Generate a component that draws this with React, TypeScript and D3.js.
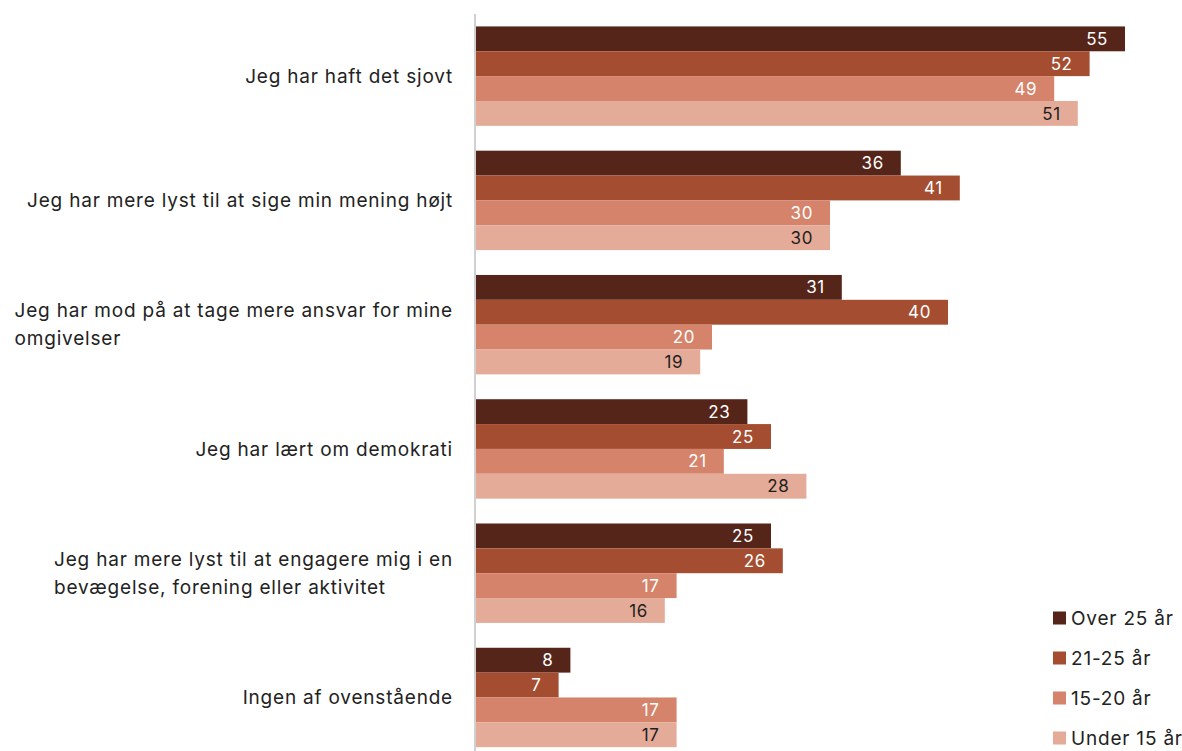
import React, { useEffect, useRef } from "react";
import * as d3 from "d3";

const categories: string[][] = [
  ["Jeg har haft det sjovt"],
  ["Jeg har mere lyst til at sige min mening højt"],
  ["Jeg har mod på at tage mere ansvar for mine", "omgivelser"],
  ["Jeg har lært om demokrati"],
  ["Jeg har mere lyst til at engagere mig i en", "bevægelse, forening eller aktivitet"],
  ["Ingen af ovenstående"],
];
const seriesNames = ["Over 25 år", "21-25 år", "15-20 år", "Under 15 år"];
const over25 = [55, 36, 31, 23, 25, 8];
const age21to25 = [52, 41, 40, 25, 26, 7];
const age15to20 = [49, 30, 20, 21, 17, 17];
const under15 = [51, 30, 19, 28, 16, 17];
const seriesValues = [over25, age21to25, age15to20, under15];
const colors = ["#55251a", "#a54d31", "#d5836a", "#e3ab98"];
const labelColors = ["#ffffff", "#ffffff", "#ffffff", "#1e1e1e"];

const W = 1182;
const H = 751;
const FONT = "Inter, 'Noto Sans', sans-serif";

export default function App() {
  const ref = useRef<SVGSVGElement | null>(null);
  useEffect(() => {
    const svg = d3.select(ref.current);
    svg.selectAll("*").remove();
    const x0 = 476;
    const x = d3.scaleLinear().domain([0, 55]).range([x0, 1125]);
    const y = d3
      .scaleBand<number>()
      .domain(d3.range(categories.length))
      .range([14, 759.6])
      .paddingInner(0.2)
      .paddingOuter(0.1);
    const inner = d3
      .scaleBand<number>()
      .domain(d3.range(seriesNames.length))
      .range([0, y.bandwidth()]);

    // bars
    categories.forEach((_, ci) => {
      const g = svg.append("g").attr("transform", `translate(0,${y(ci)})`);
      seriesValues.forEach((vals, si) => {
        const v = vals[ci];
        g.append("rect")
          .attr("x", x(0))
          .attr("y", inner(si)!)
          .attr("width", x(v) - x(0))
          .attr("height", inner.bandwidth())
          .attr("fill", colors[si]);
        g.append("text")
          .attr("x", x(v) - 17)
          .attr("y", inner(si)! + inner.bandwidth() / 2)
          .attr("dy", "0.36em")
          .attr("text-anchor", "end")
          .attr("font-family", FONT)
          .attr("font-size", 17)
          .attr("letter-spacing", 0.6)
          .attr("fill", labelColors[si])
          .text(String(v));
      });
    });

    // axis line
    svg
      .append("line")
      .attr("x1", 475)
      .attr("x2", 475)
      .attr("y1", 14)
      .attr("y2", H)
      .attr("stroke", "#d0d0d0")
      .attr("stroke-width", 2);

    // category labels
    const lineH = 28;
    categories.forEach((lines, ci) => {
      const cy = y(ci)! + y.bandwidth() / 2;
      const t = svg
        .append("text")
        .attr("font-family", FONT)
        .attr("font-size", 19)
        .attr("letter-spacing", 0.8)
        .attr("fill", "#222222");
      const spans = lines.map((ln, li) =>
        t
          .append("tspan")
          .attr("y", cy + (li - (lines.length - 1) / 2) * lineH)
          .attr("dy", "0.35em")
          .text(ln)
      );
      let maxW = 0;
      spans.forEach((s) => {
        const n = s.node() as SVGTSpanElement;
        maxW = Math.max(maxW, n.getComputedTextLength());
      });
      spans.forEach((s) => s.attr("x", 453 - maxW));
    });

    // legend
    seriesNames.forEach((name, si) => {
      const ly = 618 + si * 40;
      svg
        .append("rect")
        .attr("x", 1053)
        .attr("y", ly - 6.5)
        .attr("width", 13)
        .attr("height", 13)
        .attr("fill", colors[si]);
      svg
        .append("text")
        .attr("x", 1071)
        .attr("y", ly)
        .attr("dy", "0.36em")
        .attr("font-family", FONT)
        .attr("font-size", 19)
        .attr("letter-spacing", 0.8)
        .attr("fill", "#222222")
        .text(name);
    });
  }, []);
  return (
    <svg
      ref={ref}
      width={W}
      height={H}
      style={{ position: "absolute", left: 0, top: 0, display: "block", background: "#fff" }}
    />
  );
}
